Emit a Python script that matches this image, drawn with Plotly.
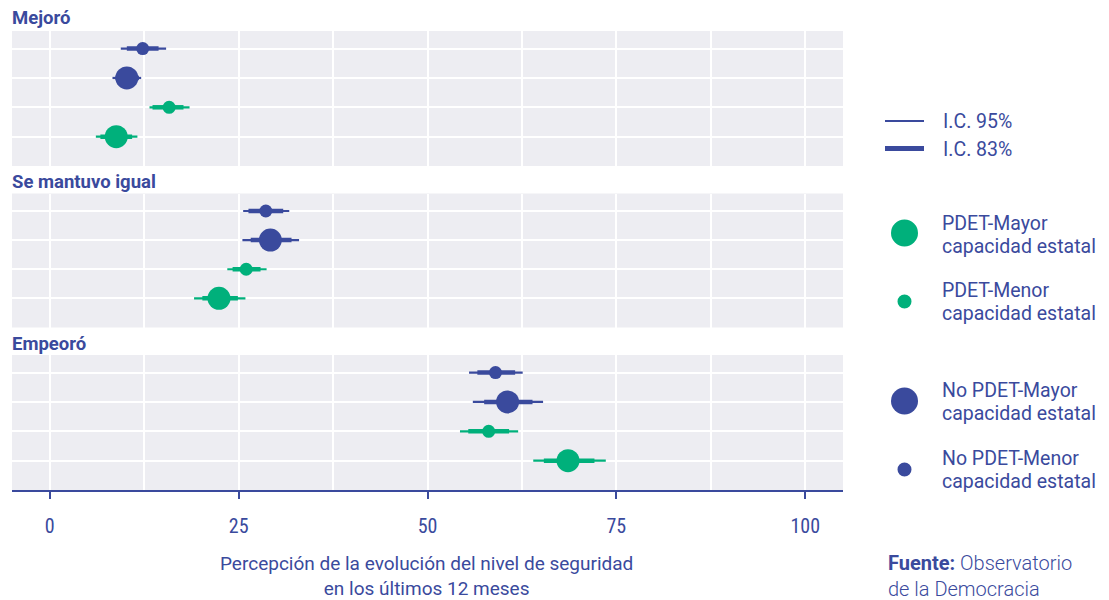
import plotly.graph_objects as go

OFF = 8  # page body margin offset
W, H = 1109 - 2 * OFF, 600 - OFF
BLUE = "#3a4a9d"
GREEN = "#00b07b"
PANEL_BG = "#ededf2"

panels = ["Mejoró", "Se mantuvo igual", "Empeoró"]
# rows from top to bottom
groups = ["No PDET-Menor", "No PDET-Mayor", "PDET-Menor", "PDET-Mayor"]
group_color = [BLUE, BLUE, GREEN, GREEN]
group_size = [13, 23, 13, 23]
row_pos = [4, 3, 2, 1]

# estimates per panel (rows in order of groups)
est = {
    "Mejoró": [12.3, 10.2, 15.8, 8.8],
    "Se mantuvo igual": [28.6, 29.2, 26.0, 22.4],
    "Empeoró": [59.0, 60.6, 58.1, 68.6],
}
lo95 = {
    "Mejoró": [9.4, 8.3, 13.2, 6.1],
    "Se mantuvo igual": [25.6, 25.5, 23.5, 19.1],
    "Empeoró": [55.5, 56.0, 54.3, 64.0],
}
hi95 = {
    "Mejoró": [15.4, 12.1, 18.5, 11.6],
    "Se mantuvo igual": [31.7, 33.0, 28.7, 25.9],
    "Empeoró": [62.6, 65.3, 62.0, 73.6],
}
lo83 = {
    "Mejoró": [10.2, 8.7, 13.6, 6.7],
    "Se mantuvo igual": [26.3, 26.6, 24.2, 20.2],
    "Empeoró": [56.6, 57.5, 55.4, 65.4],
}
hi83 = {
    "Mejoró": [14.4, 11.8, 17.7, 10.9],
    "Se mantuvo igual": [30.9, 32.0, 27.9, 24.9],
    "Empeoró": [61.6, 63.9, 60.8, 72.1],
}
x_ticks = [0, 25, 50, 75, 100]

fig = go.Figure()

# panel pixel extents in the reference (top, bottom)
panel_px = [(31, 166), (193.5, 327.5), (355, 490)]
x_px = (12, 843)

def px(p):
    return (p - OFF) / W

def py(p):
    return 1 - (p - OFF) / H

for i, pname in enumerate(panels):
    ax_idx = i + 1
    xref = "x" if ax_idx == 1 else f"x{ax_idx}"
    yref = "y" if ax_idx == 1 else f"y{ax_idx}"
    for g in range(4):
        c = group_color[g]
        y = row_pos[g]
        fig.add_trace(go.Scatter(
            x=[lo95[pname][g], hi95[pname][g]], y=[y, y], mode="lines",
            line=dict(color=c, width=2.2), xaxis=xref, yaxis=yref,
            showlegend=False, hoverinfo="skip"))
        fig.add_trace(go.Scatter(
            x=[lo83[pname][g], hi83[pname][g]], y=[y, y], mode="lines",
            line=dict(color=c, width=4.5), xaxis=xref, yaxis=yref,
            showlegend=False, hoverinfo="skip"))
        fig.add_trace(go.Scatter(
            x=[est[pname][g]], y=[y], mode="markers",
            marker=dict(color=c, size=group_size[g], line=dict(width=0)),
            xaxis=xref, yaxis=yref, showlegend=False, name=groups[g]))

layout_axes = {}
for i in range(3):
    ax_idx = i + 1
    xkey = "xaxis" if ax_idx == 1 else f"xaxis{ax_idx}"
    ykey = "yaxis" if ax_idx == 1 else f"yaxis{ax_idx}"
    top, bot = panel_px[i]
    is_bottom = (i == 2)
    layout_axes[xkey] = dict(
        domain=[px(x_px[0]), px(x_px[1])], range=[-5, 105],
        anchor="y" if ax_idx == 1 else f"y{ax_idx}",
        tickvals=x_ticks, ticktext=[str(v) for v in x_ticks],
        showticklabels=is_bottom,
        showgrid=True, gridcolor="white", gridwidth=1.8,
        minor=dict(dtick=12.5, tick0=0, showgrid=True, gridcolor="white", gridwidth=1.8),
        zeroline=False,
        showline=is_bottom, linecolor=BLUE, linewidth=2,
        ticks="outside" if is_bottom else "", ticklen=7, tickwidth=2, tickcolor=BLUE,
        ticklabelstandoff=10,
        tickfont=dict(family="Roboto Condensed, Liberation Sans Narrow, Roboto", size=20, color=BLUE),
        fixedrange=True,
    )
    layout_axes[ykey] = dict(
        domain=[py(bot), py(top)], range=[0, 4.6],
        anchor="x" if ax_idx == 1 else f"x{ax_idx}",
        tickvals=[1, 2, 3, 4], showticklabels=False, ticks="",
        showgrid=True, gridcolor="white", gridwidth=1.8,
        zeroline=False, showline=False, fixedrange=True,
    )

fig.update_layout(
    width=W, height=H,
    margin=dict(l=0, r=0, t=0, b=0),
    paper_bgcolor="white", plot_bgcolor=PANEL_BG,
    showlegend=False,
    font=dict(family="Roboto", color=BLUE),
    **layout_axes,
)

annotations = []
shapes = []
# strip titles
strip_y = [18, 182, 344]
for name, yy in zip(panels, strip_y):
    annotations.append(dict(text=f"<b>{name}</b>", x=px(10), y=py(yy), xref="paper", yref="paper",
                            xanchor="left", yanchor="middle", showarrow=False,
                            font=dict(family="Roboto", size=18.5, color=BLUE)))

# x axis title
annotations.append(dict(text="Percepción de la evolución del nivel de seguridad<br>en los últimos 12 meses",
                        x=px(426), y=py(576), xref="paper", yref="paper",
                        xanchor="center", yanchor="middle", showarrow=False,
                        font=dict(family="Roboto", size=19, color=BLUE)))

LEG_FS = 19.5
# legend: CI lines
for yy, wdt, lab in [(121, 2.2, "I.C. 95%"), (148.5, 5, "I.C. 83%")]:
    shapes.append(dict(type="line", xref="paper", yref="paper", x0=px(885), x1=px(924),
                       y0=py(yy), y1=py(yy), line=dict(color=BLUE, width=wdt)))
    annotations.append(dict(text=lab, x=px(941), y=py(yy + 1), xref="paper", yref="paper",
                            xanchor="left", yanchor="middle", showarrow=False,
                            font=dict(family="Roboto", size=LEG_FS, color=BLUE)))

# legend: dots
leg_items = [
    ("PDET-Mayor", GREEN, 27, 233, 223, 246.5),
    ("PDET-Menor", GREEN, 14, 301.5, 290, 313.5),
    ("No PDET-Mayor", BLUE, 27, 401, 390, 413),
    ("No PDET-Menor", BLUE, 14, 469.5, 458, 481),
]
for lab, col, d, cy, ty1, ty2 in leg_items:
    shapes.append(dict(type="circle", xref="paper", yref="paper",
                       xsizemode="pixel", ysizemode="pixel",
                       xanchor=px(904.5), yanchor=py(cy),
                       x0=-d / 2, x1=d / 2, y0=-d / 2, y1=d / 2,
                       fillcolor=col, line=dict(width=0)))
    for t, yy in [(lab, ty1), ("capacidad estatal", ty2)]:
        annotations.append(dict(text=t, x=px(940), y=py(yy), xref="paper", yref="paper",
                                xanchor="left", yanchor="middle", showarrow=False,
                                font=dict(family="Roboto", size=LEG_FS, color=BLUE)))

# source
annotations.append(dict(text="<b>Fuente:</b> Observatorio<br>de la Democracia", x=px(886), y=py(576),
                        xref="paper", yref="paper", align="left",
                        xanchor="left", yanchor="middle", showarrow=False,
                        font=dict(family="Roboto", size=20, color=BLUE, weight=300)))

fig.update_layout(annotations=annotations, shapes=shapes)
fig.write_html("out.html")
